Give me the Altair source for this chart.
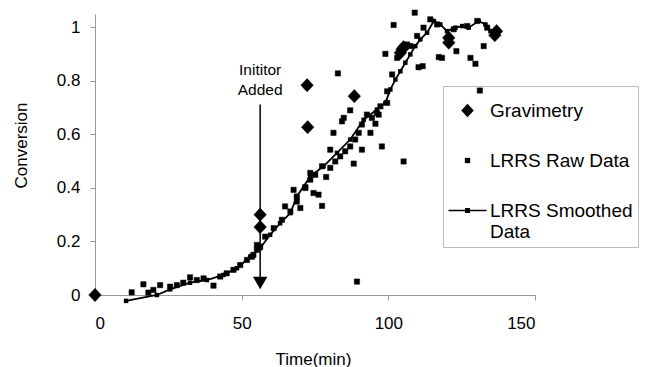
import altair as alt
import pandas as pd

# ---- data ----
grav_t = [0, 56.3, 56.3, 72.3, 72.5, 88.4, 104.1, 104.7, 105.2, 120.6, 120.6, 136.3, 136.9]
grav_c = [0.0, 0.300, 0.254, 0.784, 0.627, 0.743, 0.905, 0.918, 0.926, 0.961, 0.943, 0.971, 0.986]

raw_t = [12.5, 16.5, 18.2, 19.9, 22.2, 25.6, 27.9, 30.1, 32.4, 34.7, 37.0, 40.4, 42.7, 44.9,
         47.2, 49.5, 51.8, 53.5, 54.0, 55.2, 55.2, 56.3, 58.0, 60.9, 63.7, 64.8, 66.6, 67.7,
         68.8, 68.8, 70.0, 71.7, 71.7, 73.4, 73.4, 74.5, 75.1, 76.2, 77.4, 77.4, 78.8, 80.2,
         80.2, 81.3, 81.9, 82.8, 83.6, 84.2, 84.8, 85.3, 87.0, 87.0, 88.2, 88.7, 89.3, 89.9,
         91.0, 91.0, 92.7, 93.9, 94.4, 95.6, 96.1, 96.7, 97.3, 97.8, 99.0, 99.6, 99.6, 101.3,
         101.8, 103.0, 105.2, 106.4, 107.5, 109.0, 109.8, 110.3, 111.7, 112.0, 114.3, 116.6,
         117.2, 118.3, 122.3, 123.2, 126.9, 128.0, 129.7, 130.3, 131.2, 132.5, 133.7]
raw_c = [0.010, 0.040, 0.009, 0.019, 0.037, 0.031, 0.037, 0.046, 0.066, 0.056, 0.062, 0.035,
         0.069, 0.081, 0.094, 0.112, 0.131, 0.143, 0.150, 0.169, 0.187, 0.181, 0.218, 0.250,
         0.281, 0.331, 0.312, 0.393, 0.349, 0.368, 0.325, 0.400, 0.403, 0.431, 0.456, 0.381,
         0.449, 0.375, 0.333, 0.481, 0.441, 0.475, 0.543, 0.606, 0.499, 0.828, 0.518, 0.649,
         0.662, 0.537, 0.555, 0.690, 0.491, 0.581, 0.050, 0.606, 0.543, 0.637, 0.674, 0.606,
         0.662, 0.640, 0.680, 0.674, 0.705, 0.555, 0.901, 0.718, 0.761, 0.824, 1.009, 0.886,
         0.499, 0.936, 0.930, 1.055, 0.968, 0.851, 0.855, 0.999, 1.030, 1.011, 0.889, 0.886,
         0.993, 0.911, 1.005, 0.886, 0.864, 1.024, 0.764, 0.930, 0.999]

smooth_t = [10.6, 21.1, 25.6, 32.4, 38.1, 43.8, 48.4, 52.9, 56.3, 59.7, 63.1, 66.6, 68.8,
            73.4, 77.9, 82.5, 87.0, 91.6, 96.1, 99.0, 100.7, 102.4, 104.1, 105.8, 107.5,
            109.2, 110.9, 113.2, 115.5, 117.7, 120.0, 122.9, 125.2, 127.4, 130.8, 133.1,
            134.8, 136.5]
smooth_c = [-0.022, 0.0, 0.021, 0.046, 0.056, 0.075, 0.100, 0.143, 0.175, 0.225, 0.268,
            0.306, 0.368, 0.443, 0.481, 0.531, 0.581, 0.655, 0.693, 0.718, 0.768, 0.805,
            0.836, 0.868, 0.899, 0.930, 0.955, 0.980, 1.024, 1.011, 0.986, 0.999, 1.005,
            0.999, 1.024, 1.011, 0.986, 0.980]

series_names = ["Gravimetry", "LRRS Raw Data", "LRRS Smoothed Data"]

arrow_t = [56.3]
arrow_top = [0.712]
arrow_tip = [0.03]
arrow_head = [0.045]
note_text = ["Inititor\nAdded"]
note_c = [0.84]

# ---- tables ----
pts = pd.DataFrame({
    "t": grav_t + raw_t,
    "c": grav_c + raw_c,
    "series": [series_names[0]] * len(grav_t) + [series_names[1]] * len(raw_t),
})
smooth = pd.DataFrame({"t": smooth_t, "c": smooth_c})
arrow = pd.DataFrame({"t": arrow_t, "top": arrow_top, "tip": arrow_tip,
                      "head": arrow_head, "note": note_text, "nc": note_c})

FONT = "Liberation Sans"

x_enc = alt.X("t:Q", scale=alt.Scale(domain=[0, 150], nice=False, zero=False),
              axis=alt.Axis(values=[0, 50, 100, 150], title="Time(min)", grid=False,
                            titleX=218, titleY=64, titleBaseline="middle",
                            labelPadding=15))
y_enc = alt.Y("c:Q", scale=alt.Scale(domain=[0, 1.05], nice=False, zero=False),
              axis=alt.Axis(values=[0, 0.2, 0.4, 0.6, 0.8, 1.0], format="~g",
                            title="Conversion", grid=False, titleX=-74, titleY=131,
                            titleAngle=-90, titleBaseline="middle", titleAlign="center",
                            labelPadding=10))

smoothed_line = alt.Chart(smooth).mark_line(color="black", strokeWidth=1.8).encode(
    x=x_enc, y=y_enc)
smoothed_marks = alt.Chart(smooth).mark_square(color="black", size=20, opacity=1).encode(
    x="t:Q", y="c:Q")

# symbol shapes in a unit box; all symbols share one size (38 px box)
diamond_path = "M0,-0.35L0.33,0L0,0.35L-0.33,0Z"
square_path = "M-0.14,-0.14H0.14V0.14H-0.14Z"
line_path = "M-1,-0.04H1V0.04H-1Z M-0.13,-0.13H0.13V0.13H-0.13Z"
SYM = 1444

points = alt.Chart(pts).mark_point(filled=True, color="black", stroke="black",
                                   strokeWidth=0.5, opacity=1, size=SYM).encode(
    x="t:Q", y="c:Q",
    shape=alt.Shape("series:N",
                    scale=alt.Scale(domain=series_names,
                                    range=[diamond_path, square_path, line_path]),
                    legend=alt.Legend(
                        title=None, orient="none", legendX=348, legendY=72,
                        direction="vertical", padding=5, rowPadding=20,
                        labelOffset=3, labelFontSize=19, labelFont=FONT,
                        labelLimit=0, strokeColor="#bbbbbb",
                        symbolSize=SYM, symbolStrokeWidth=0.5,
                        symbolFillColor="black", symbolStrokeColor="black",
                        labelExpr="datum.label == 'LRRS Smoothed Data' ? ['LRRS Smoothed', 'Data'] : datum.label")),
)

arrow_line = alt.Chart(arrow).mark_rule(color="black", strokeWidth=1.5).encode(
    x="t:Q", y="top:Q", y2="tip:Q")
arrow_tri = alt.Chart(arrow).mark_point(shape="triangle-down", filled=True, color="black",
                                        size=210, opacity=1).encode(x="t:Q", y="head:Q")
note = alt.Chart(arrow).mark_text(font=FONT, fontSize=15.5, color="black", lineBreak="\n",
                                  lineHeight=20, baseline="middle", align="center").encode(
    x="t:Q", y="nc:Q", text="note:N")

chart = alt.layer(smoothed_line, smoothed_marks, points, arrow_line, arrow_tri, note).properties(
    width=440, height=281,
    padding={"left": 95, "top": 14, "right": 111, "bottom": 72},
    autosize=alt.AutoSizeParams(type="none"),
).configure_view(stroke=None).configure_axis(
    domainColor="#999999", tickColor="#999999", tickSize=5,
    labelColor="black", labelFont=FONT, labelFontSize=17,
    titleColor="black", titleFont=FONT, titleFontSize=17, titleFontWeight="normal",
)

chart.save("out.html", embed_options={"renderer": "svg", "actions": False})
